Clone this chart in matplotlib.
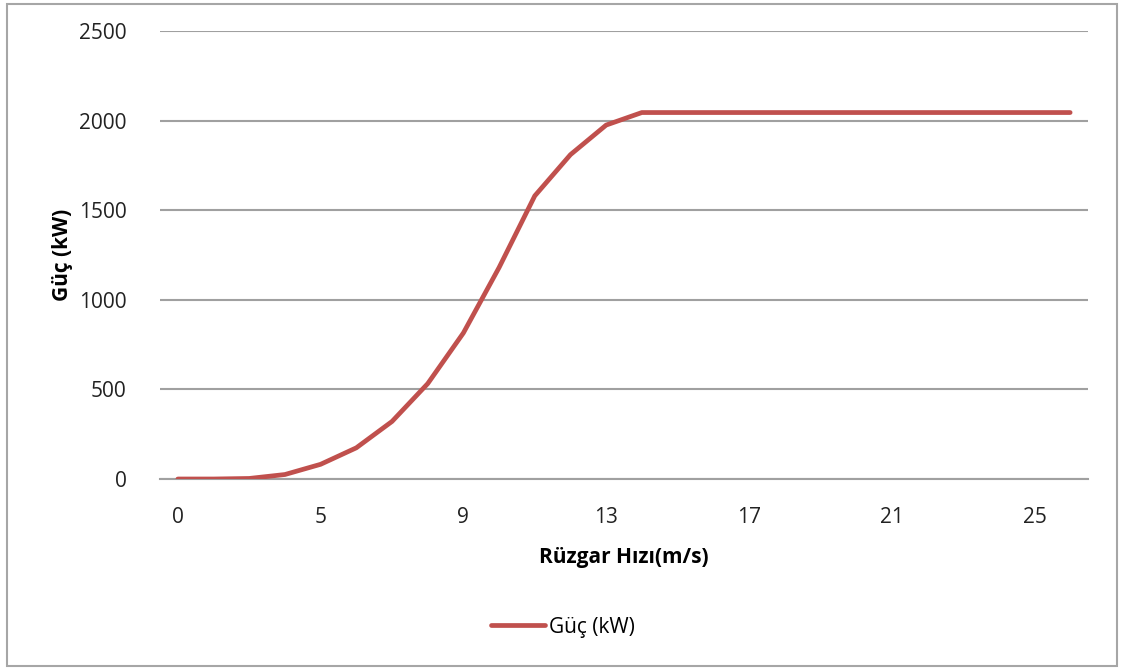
import matplotlib
matplotlib.use("Agg")
import matplotlib.pyplot as plt
from matplotlib.patches import Rectangle

# wind speed categories (m/s) and power output (kW)
speeds = [0, 2, 3, 4, 5, 6, 7, 8, 9, 10, 11, 12, 13, 14, 15, 16, 17,
          18, 19, 20, 21, 22, 23, 24, 25, 26]
power = [0, 0, 3, 25, 82, 174, 321, 532, 815, 1180, 1580, 1810, 1975,
         2045, 2045, 2045, 2045, 2045, 2045, 2045, 2045, 2045, 2045,
         2045, 2045, 2045]
yticks = [0, 500, 1000, 1500, 2000, 2500]

plt.rcParams['font.family'] = ['Open Sans', 'DejaVu Sans']

W, H = 1123, 668
fig = plt.figure(figsize=(W / 100, H / 100), dpi=100)

# outer chart border
fig.patches.append(Rectangle((7 / W, 1 - 666 / H), (1117 - 7) / W, (666 - 4) / H,
                             transform=fig.transFigure, fill=False,
                             edgecolor='#a6a6a6', linewidth=1.5))

ax = fig.add_axes([160 / W, 1 - 479 / H, (1088 - 160) / W, (479 - 31) / H])
x = list(range(len(speeds)))
ax.plot(x, power, color='#C0504D', linewidth=3.4, solid_capstyle='round',
        label='Güç (kW)', zorder=3)

ax.set_xlim(-0.5, len(speeds) - 0.5)
ax.set_ylim(0, 2500)
ax.set_yticks(yticks)
ax.set_yticklabels([str(v) for v in yticks])
tick_idx = list(range(0, len(speeds), 4))
ax.set_xticks(tick_idx)
ax.set_xticklabels([str(speeds[i]) for i in tick_idx])
ax.tick_params(length=0, labelsize=15, colors='#222222')
ax.tick_params(axis='y', pad=24)
ax.tick_params(axis='x', pad=20)

ax.grid(axis='y', color='#a0a0a0', linewidth=1.5)
ax.set_axisbelow(True)
for s in ['top', 'right', 'left']:
    ax.spines[s].set_visible(False)
ax.spines['bottom'].set_color('#a0a0a0')
ax.spines['bottom'].set_linewidth(1.5)

ax.set_xlabel('Rüzgar Hızı(m/s)', fontsize=15, fontweight='bold', labelpad=14)
ax.set_ylabel('Güç (kW)', fontsize=15, fontweight='bold', labelpad=4)

ax.legend(loc='center', bbox_to_anchor=(563 / W, 1 - 627 / H),
          bbox_transform=fig.transFigure, frameon=False, fontsize=15,
          handlelength=2.6, handletextpad=0.2)

fig.savefig('out.png', dpi=100)
